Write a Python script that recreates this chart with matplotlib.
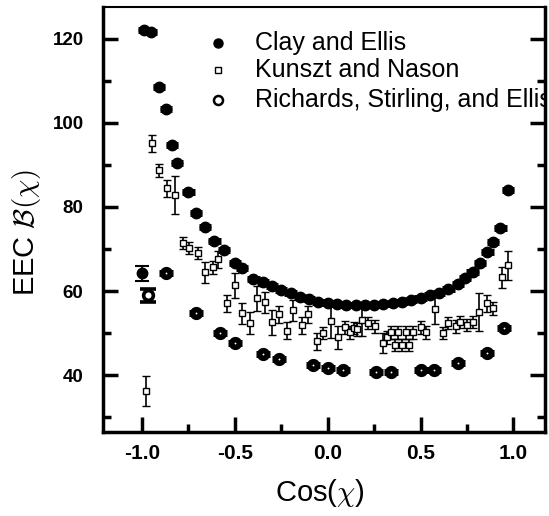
import matplotlib
matplotlib.use("Agg")
import matplotlib.pyplot as plt
from matplotlib.ticker import MultipleLocator

plt.rcParams['font.family'] = ['Liberation Sans', 'DejaVu Sans']
plt.rcParams['mathtext.fontset'] = 'cm'

# Clay and Ellis (filled circles)
clay_x = [-0.99, -0.95, -0.91, -0.87, -0.84, -0.81, -0.75, -0.71, -0.66, -0.61, -0.56,
          -0.50, -0.46, -0.40, -0.35, -0.30, -0.25, -0.20, -0.15, -0.10, -0.05, 0.0,
          0.05, 0.10, 0.15, 0.20, 0.25, 0.30, 0.35, 0.40, 0.45, 0.50, 0.55, 0.60,
          0.65, 0.70, 0.74, 0.78, 0.82, 0.86, 0.89, 0.93, 0.97]
clay_y = [122.0, 121.5, 108.4, 103.2, 94.6, 90.4, 83.5, 78.5, 75.2, 71.8, 69.7,
          66.6, 65.4, 62.8, 62.1, 61.1, 60.2, 59.5, 58.6, 58.2, 57.4, 57.1,
          56.9, 56.7, 56.6, 56.6, 56.7, 56.9, 57.1, 57.4, 57.8, 58.4, 59.0, 59.6,
          60.6, 61.6, 63.0, 64.5, 66.6, 69.2, 71.6, 74.9, 84.0]
clay_end_x = [-1.0]
clay_end_y = [64.2]
clay_end_err = [1.7]

# Kunszt and Nason (open squares with error bars)
kn_x = [-0.98, -0.946, -0.91, -0.865, -0.82, -0.78, -0.746, -0.70, -0.66, -0.62, -0.59,
        -0.54, -0.50, -0.46, -0.42, -0.38, -0.34, -0.30, -0.26, -0.22, -0.186, -0.14,
        -0.106, -0.06, -0.025, 0.018, 0.056, 0.094, 0.12, 0.14, 0.16, 0.185, 0.218,
        0.255, 0.30, 0.32, 0.34, 0.36, 0.38, 0.40, 0.42, 0.44, 0.46, 0.50, 0.53,
        0.58, 0.62, 0.65, 0.69, 0.71, 0.75, 0.78, 0.815, 0.86, 0.89, 0.94, 0.97]
kn_y = [36.2, 95.1, 88.7, 84.4, 82.8, 71.4, 70.2, 69.0, 64.5, 65.6, 67.5,
        57.1, 61.4, 54.7, 52.4, 58.3, 57.3, 52.6, 54.5, 50.6, 55.4, 51.9,
        54.5, 48.1, 50.0, 52.8, 49.0, 51.4, 50.2, 51.2, 50.9, 53.1, 52.4,
        51.6, 47.6, 49.0, 50.2, 47.2, 50.2, 47.2, 50.2, 47.2, 50.2, 51.4, 50.2,
        55.7, 50.0, 52.4, 51.6, 52.6, 51.9, 52.6, 55.0, 57.1, 55.9, 63.3, 66.1]
kn_err = [3.6, 2.1, 1.5, 2.0, 4.5, 1.5, 1.5, 1.5, 2.5, 1.5, 2.0,
          2.0, 3.0, 2.5, 2.5, 3.0, 2.5, 3.0, 2.0, 2.0, 2.5, 2.0,
          2.0, 2.0, 1.5, 4.0, 2.7, 1.5, 1.5, 1.5, 1.5, 3.8, 1.5,
          1.5, 2.4, 1.5, 1.5, 1.5, 1.5, 1.5, 1.5, 1.5, 1.5, 1.5, 1.5,
          3.5, 1.5, 1.5, 1.5, 1.5, 1.5, 1.5, 4.5, 2.0, 1.5, 2.5, 3.5]

# Richards, Stirling, and Ellis (open circles)
rse_x = [-0.87, -0.71, -0.58, -0.50, -0.35, -0.26, -0.08, 0.0, 0.08, 0.26, 0.34,
         0.50, 0.57, 0.70, 0.86, 0.95]
rse_y = [64.2, 54.7, 50.0, 47.6, 45.0, 43.8, 42.4, 41.7, 41.2, 40.7, 40.7,
         41.2, 41.2, 42.8, 45.2, 51.2]
rse_end_x = [-0.97]
rse_end_y = [59.0]
rse_end_err = [1.6]

fig = plt.figure(figsize=(5.49, 5.16), dpi=100)
ax = fig.add_axes([0.1876, 0.1628, 0.8051, 0.8236])

ax.errorbar(clay_x, clay_y, xerr=0.033, fmt='o', ms=7.5, color='black',
            elinewidth=5, capsize=0)
ax.errorbar(clay_end_x, clay_end_y, yerr=clay_end_err, fmt='o', ms=7.5, color='black',
            elinewidth=1.3, capsize=5, capthick=1.5)

ax.errorbar(rse_x, rse_y, xerr=0.038, fmt='o', ms=5.5, mfc='white', mec='black',
            mew=4.0, ecolor='black', elinewidth=5, capsize=0)
ax.errorbar(rse_end_x, rse_end_y, yerr=rse_end_err, fmt='o', ms=7, mfc='white',
            mec='black', mew=2.6, ecolor='black', elinewidth=1.3, capsize=6, capthick=2.2)

ax.errorbar(kn_x, kn_y, yerr=kn_err, fmt='s', ms=4.5, mfc='white', mec='black',
            mew=1.0, ecolor='black', elinewidth=1.2, capsize=3, capthick=1.2)

ax.set_xlim(-1.21, 1.17)
ax.set_ylim(26.5, 127.5)
ax.xaxis.set_minor_locator(MultipleLocator(0.25))
ax.yaxis.set_major_locator(MultipleLocator(20))
ax.yaxis.set_minor_locator(MultipleLocator(10))
ax.set_xticks([-1.0, -0.5, 0.0, 0.5, 1.0])
ax.set_xticklabels(['-1.0', '-0.5', '0.0', '0.5', '1.0'])

ax.tick_params(which='both', direction='in', right=True, top=False, width=2.5)
ax.tick_params(which='major', length=11)
ax.tick_params(which='minor', length=6)
ax.tick_params(axis='x', which='major', pad=9, labelsize=15)
ax.tick_params(axis='y', which='major', pad=14, labelsize=13.5)
for lab in ax.get_xticklabels() + ax.get_yticklabels():
    lab.set_fontweight('bold')
for sp in ax.spines.values():
    sp.set_linewidth(2.5)
ax.spines['top'].set_linewidth(1.5)

ax.set_xlabel(r'Cos($\chi$)', fontsize=21)
ax.set_ylabel(r'EEC $\mathcal{B}(\chi)$', fontsize=21)
ax.xaxis.set_label_coords(0.49, -0.105)
ax.yaxis.set_label_coords(-0.135, 0.47)

# legend drawn by hand so the long label is clipped by the frame
names = ['Clay and Ellis', 'Kunszt and Nason', 'Richards, Stirling, and Ellis']
rows = [0.915, 0.852, 0.781]
ax.plot([0.26], [rows[0]], 'o', ms=6.5, color='black', transform=ax.transAxes)
ax.plot([0.26], [rows[1]], 's', ms=4.5, mfc='white', mec='black', mew=1.0,
        transform=ax.transAxes)
ax.plot([0.26], [rows[2]], 'o', ms=6.5, mfc='white', mec='black', mew=1.8,
        transform=ax.transAxes)
for nm, ry in zip(names, rows):
    ax.text(0.344, ry, nm, transform=ax.transAxes, fontsize=18, va='center',
            ha='left', clip_on=True)

fig.savefig('out.png', dpi=100)
